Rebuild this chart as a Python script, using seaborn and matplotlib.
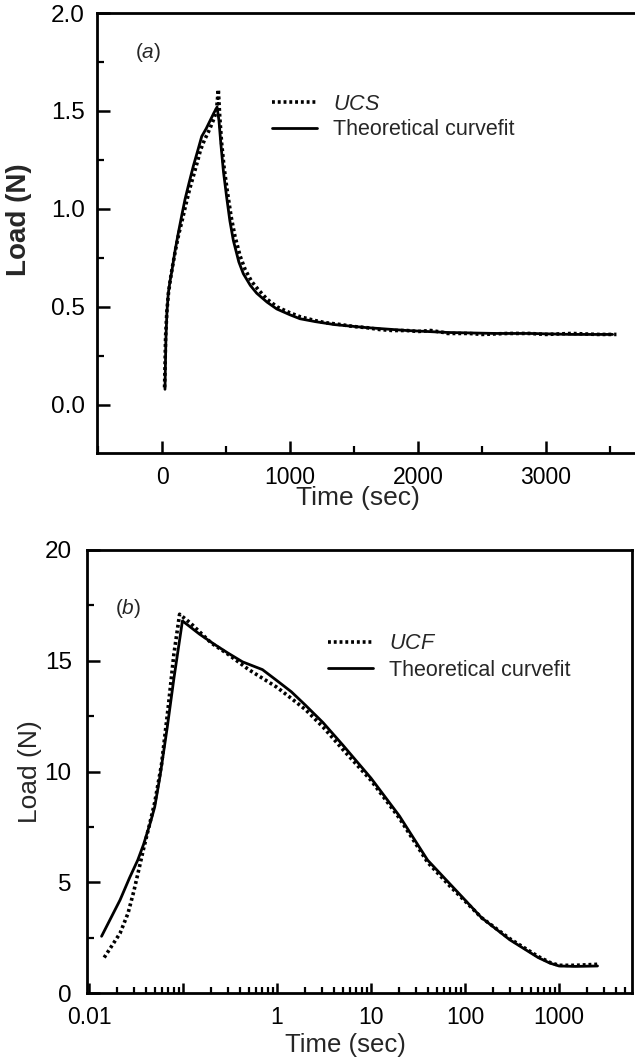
import numpy as np
import pandas as pd
import matplotlib
matplotlib.use("Agg")
import matplotlib.pyplot as plt
import matplotlib.ticker as mticker
import seaborn as sns

# ---------------- data ----------------
# panel (a): linear time axis
a_fit_t = [23, 30, 38, 49, 62, 76, 100, 128, 155, 180, 210, 245, 280, 310, 345, 375, 405, 430,
           445, 460, 480, 505, 530, 557, 600, 635, 690, 740, 820, 896, 1000, 1078, 1200, 1350,
           1593, 1911, 2230, 2600, 2870, 3200, 3520]
a_fit_load = [0.08, 0.33, 0.47, 0.57, 0.63, 0.68, 0.78, 0.88, 0.97, 1.05, 1.13, 1.22, 1.30, 1.37,
              1.41, 1.45, 1.49, 1.52, 1.45, 1.33, 1.19, 1.06, 0.94, 0.84, 0.73, 0.67, 0.61, 0.57,
              0.525, 0.49, 0.46, 0.44, 0.425, 0.41, 0.395, 0.38, 0.37, 0.365, 0.365, 0.36, 0.36]
a_ucs_t = [20, 28, 38, 50, 65, 80, 105, 130, 160, 185, 215, 250, 280, 300, 330, 360, 380, 405,
           425, 440, 450, 465, 485, 510, 540, 570, 610, 650, 700, 750, 820, 900, 1000, 1080,
           1200, 1275, 1400, 1500, 1593, 1700, 1800, 1911, 2000, 2100, 2200, 2230, 2400, 2500,
           2700, 2870, 3000, 3200, 3400, 3550]
a_ucs_load = [0.09, 0.35, 0.48, 0.57, 0.64, 0.70, 0.79, 0.87, 0.95, 1.02, 1.10, 1.18, 1.25, 1.30,
              1.35, 1.39, 1.42, 1.46, 1.50, 1.61, 1.48, 1.34, 1.21, 1.09, 0.96, 0.86, 0.76, 0.69,
              0.63, 0.59, 0.54, 0.50, 0.47, 0.45, 0.43, 0.42, 0.41, 0.40, 0.395, 0.385, 0.38,
              0.38, 0.375, 0.38, 0.37, 0.365, 0.365, 0.36, 0.365, 0.365, 0.36, 0.365, 0.36, 0.36]

# panel (b): log time axis
b_fit_t = [0.0136, 0.0214, 0.027, 0.033, 0.038, 0.045, 0.05, 0.057, 0.068, 0.08, 0.0986, 0.15,
           0.214, 0.3, 0.43, 0.7, 1.0, 1.42, 2.0, 3.1, 5.0, 10, 20, 40, 70, 100, 150, 300, 600,
           800, 1000, 1500, 2570]
b_fit_load = [2.56, 4.2, 5.2, 6.0, 6.7, 7.7, 8.4, 9.8, 12.0, 14.2, 16.8, 16.2, 15.75, 15.35,
              14.95, 14.6, 14.1, 13.6, 13.0, 12.2, 11.2, 9.7, 8.0, 6.0, 4.9, 4.2, 3.4, 2.4, 1.6,
              1.35, 1.22, 1.2, 1.22]
b_ucf_t = [0.0145, 0.0214, 0.026, 0.03, 0.034, 0.038, 0.044, 0.05, 0.059, 0.07, 0.08, 0.092,
           0.12, 0.2, 0.3, 0.5, 1.0, 1.42, 2.0, 3.1, 5.0, 10, 20, 40, 70, 100, 150, 300, 600,
           800, 1000, 1500, 2700]
b_ucf_load = [1.6, 2.7, 3.6, 4.6, 5.6, 6.5, 7.6, 8.6, 10.3, 13.0, 15.3, 17.1, 16.7, 15.8, 15.3,
              14.6, 13.8, 13.3, 12.8, 12.0, 11.0, 9.6, 7.9, 5.9, 4.8, 4.15, 3.4, 2.45, 1.65,
              1.38, 1.25, 1.25, 1.3]

a_xticks = [0, 1000, 2000, 3000]
a_yticks = [0.0, 0.5, 1.0, 1.5, 2.0]
b_xticks = [0.01, 0.1, 1, 10, 100, 1000]
b_xticklabels = ["0.01", "", "1", "10", "100", "1000"]
b_yticks = [0, 5, 10, 15, 20]

# ---------------- style ----------------
sns.set_theme(style="ticks")
plt.rcParams["font.family"] = ["Liberation Sans", "DejaVu Sans"]
plt.rcParams["mathtext.fontset"] = "custom"
plt.rcParams["mathtext.rm"] = "Liberation Sans"
plt.rcParams["mathtext.it"] = "Liberation Sans:italic"
plt.rcParams["axes.linewidth"] = 2.0
plt.rcParams["axes.edgecolor"] = "black"

W, H = 635, 1061
fig = plt.figure(figsize=(W / 100, H / 100), dpi=100)

def px_axes(l, t, r, b):
    return fig.add_axes([l / W, 1 - b / H, (r - l) / W, (b - t) / H])

axA = px_axes(97, 13, 640, 453)
axB = px_axes(87, 550, 632, 993)

dfa_fit = pd.DataFrame({"t": a_fit_t, "load": a_fit_load})
dfa_ucs = pd.DataFrame({"t": a_ucs_t, "load": a_ucs_load})
dfb_fit = pd.DataFrame({"t": b_fit_t, "load": b_fit_load})
dfb_ucf = pd.DataFrame({"t": b_ucf_t, "load": b_ucf_load})

dot_kw = dict(color="black", linestyle=(0, (0.8, 0.8)), linewidth=2.6, estimator=None)
sol_kw = dict(color="black", linestyle="-", linewidth=2.0, estimator=None)

sns.lineplot(data=dfa_ucs, x="t", y="load", ax=axA, label=r"$\mathit{UCS}$", **dot_kw)
sns.lineplot(data=dfa_fit, x="t", y="load", ax=axA, label="Theoretical curvefit", **sol_kw)
sns.lineplot(data=dfb_ucf, x="t", y="load", ax=axB, label=r"$\mathit{UCF}$", **dot_kw)
sns.lineplot(data=dfb_fit, x="t", y="load", ax=axB, label="Theoretical curvefit", **sol_kw)

# ---- panel a axes ----
axA.set_xlim(-508, 3734)
axA.set_ylim(-0.245, 2.0)
axA.set_xticks(a_xticks)
axA.set_yticks(a_yticks)
axA.xaxis.set_minor_locator(mticker.MultipleLocator(500))
axA.yaxis.set_minor_locator(mticker.MultipleLocator(0.25))
axA.yaxis.set_major_formatter(mticker.FormatStrFormatter("%.1f"))

# ---- panel b axes ----
axB.set_xscale("log")
axB.set_xlim(0.00952, 5980)
axB.set_ylim(0, 20)
axB.set_xticks(b_xticks)
axB.set_xticklabels(b_xticklabels)
axB.xaxis.set_minor_locator(mticker.LogLocator(base=10, subs=np.arange(2, 10)))
axB.xaxis.set_minor_formatter(mticker.NullFormatter())
axB.set_yticks(b_yticks)
axB.yaxis.set_minor_locator(mticker.MultipleLocator(2.5))

for ax in (axA, axB):
    for s in ax.spines.values():
        s.set_visible(True)
        s.set_linewidth(2.0)
        s.set_color("black")
    ax.tick_params(which="major", direction="in", length=9, width=1.8,
                   colors="black", pad=9)
    ax.tick_params(axis="y", which="major", labelsize=17.5)
    ax.tick_params(axis="x", which="major", labelsize=16.5)
    ax.tick_params(which="minor", direction="in", length=5, width=1.6, colors="black")
    ax.tick_params(axis="y", which="both", left=True, right=False)
    ax.tick_params(axis="x", which="both", bottom=True, top=False)
    ax.grid(False)

axB.tick_params(axis="x", which="major", length=7)
axB.tick_params(axis="x", which="minor", length=4)
axB.tick_params(axis="y", which="major", pad=11)

# labels
axA.set_xlabel("Time (sec)", fontsize=19)
axA.set_ylabel("Load (N)", fontsize=20, fontweight="bold")
axA.xaxis.set_label_coords(0.48, -0.075)
axA.yaxis.set_label_coords(-0.12, 0.53)

axB.set_xlabel("Time (sec)", fontsize=18.5)
axB.set_ylabel("Load (N)", fontsize=19)
axB.xaxis.set_label_coords(0.475, -0.09)
axB.yaxis.set_label_coords(-0.083, 0.5)

axA.text(0.07, 0.911, r"($\mathit{a}$)", transform=axA.transAxes, fontsize=15,
         va="center", ha="left")
axB.text(0.051, 0.869, r"($\mathit{b}$)", transform=axB.transAxes, fontsize=15,
         va="center", ha="left")

for ax, anchor, ls in ((axA, (0.322, 0.816), 0.2), (axB, (0.442, 0.812), 0.25)):
    ax.legend(loc="upper left", bbox_to_anchor=anchor, frameon=False, fontsize=15.5,
              handlelength=2.1, handletextpad=0.75, labelspacing=ls,
              borderpad=0, borderaxespad=0)

fig.savefig("out.png", dpi=100)
